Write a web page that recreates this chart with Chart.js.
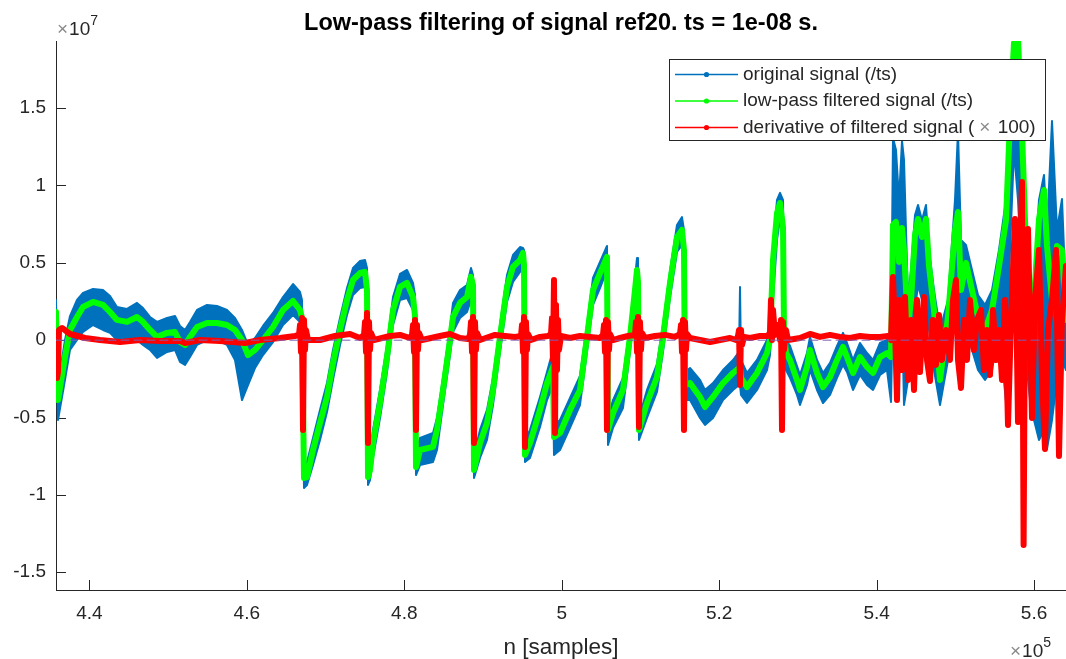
<!DOCTYPE html>
<html>
<head>
<meta charset="utf-8">
<title>Low-pass filtering of signal ref20</title>
<script src="https://cdn.jsdelivr.net/npm/chart.js@4.4.1/dist/chart.umd.min.js"></script>
<style>
  html, body { margin: 0; padding: 0; background: #fff; }
  #wrap { width: 1066px; height: 659px; }
</style>
</head>
<body>
<div id="wrap"><canvas id="plot" width="1066" height="659"></canvas></div>
<script>
// sample index n, shared by the original (noise band) and the filtered signal
const n = [
  435760, 436014, 436903, 437538, 438428, 439190, 440461, 441730, 442620, 443509,
  444779, 446049, 446811, 447701, 448590, 449860, 450876, 451512, 452147, 452782,
  453671, 454942, 456212, 457482, 458498, 459387, 460150, 461039, 462055, 463326,
  464596, 465866, 466755, 467009, 467263, 467645, 468407, 469296, 470185, 470947,
  471837, 472726, 473488, 474377, 475013, 475267, 475394, 475648, 476029, 476918,
  477807, 478569, 479458, 480347, 481110, 481364, 481491, 481999, 483650, 484158,
  484921, 485810, 486191, 487080, 487969, 488477, 488731, 488858, 489620, 490510,
  491272, 492161, 493050, 493812, 494701, 495082, 495209, 495336, 495971, 497242,
  498131, 498893, 499020, 499782, 501052, 502322, 503211, 503973, 504863, 505752,
  505879, 506514, 507784, 508673, 509309, 509563, 509690, 509817, 510833, 512103,
  512866, 513755, 514644, 515279, 515533, 515660, 516295, 517567, 518200, 519219,
  520489, 521760, 522521, 522649, 522776, 523538, 524808, 526078, 526459, 526841,
  527349, 527730, 528111, 528238, 528492, 529000, 529889, 530270, 531160, 531541,
  532430, 533192, 534081, 534970, 535733, 536241, 537003, 537892, 538781, 539544,
  540433, 541322, 541830, 542084, 542465, 542846, 543227, 543481, 543990, 544371,
  544879, 545260, 545768, 546276, 546657, 547292, 548055, 549071, 549960, 550341,
  550722, 551357, 552119, 552882, 553771, 554660, 555549, 556439, 556947, 557455,
  557963, 558471, 558979, 559487, 559995, 560630, 561266, 561647, 562282, 562917,
  563552, 564060
];

// low-pass filtered signal (/ts), in units of 1e6
const filtered = [
  1.82, -3.87, -1.09, 0.66, 1.50, 2.15, 2.47, 2.28, 1.82, 1.31,
  1.18, 1.50, 1.18, 0.66, 0.21, 0.47, 0.53, -0.12, -0.31, 0.21,
  0.85, 1.11, 1.11, 0.98, 0.66, 0.01, -0.96, -0.63, 0.01, 0.85,
  1.95, 2.53, 1.95, 1.43, -8.91, -8.85, -7.10, -5.35, -3.67, -1.47,
  0.66, 2.60, 3.89, 4.34, 4.41, 3.24, -8.85, -8.39, -6.65, -4.06,
  -1.09, 1.95, 3.44, 3.70, 2.79, 1.56, -8.20, -7.10, -6.90, -5.80,
  -3.22, 0.01, 1.50, 2.41, 2.79, 4.09, 3.57, -8.39, -6.65, -5.35,
  -3.22, 0.21, 3.44, 4.74, 5.18, 5.64, 4.86, -7.42, -6.65, -4.51,
  -2.77, -1.73, -6.26, -6.00, -4.51, -3.22, 0.21, 3.24, 4.34, 5.38,
  -5.80, -4.71, -3.22, 0.21, 3.24, 4.54, 3.76, -5.80, -4.06, -2.38,
  0.21, 3.70, 6.67, 7.12, 5.83, -2.90, -2.77, -3.67, -4.32, -3.67,
  -2.77, -2.12, -1.80, -1.80, -2.44, -3.03, -2.12, -0.83, 0.01, 5.18,
  8.22, 8.87, 7.32, 0.66, -0.83, -1.28, -2.57, -3.22, -1.73, -0.63,
  -2.12, -3.03, -2.38, -1.28, -0.44, -1.09, -2.12, -1.09, -1.73, -2.12,
  -1.09, -0.83, -1.09, 7.45, 7.64, 5.06, 7.25, 5.83, 0.85, 2.60,
  6.80, 7.83, 6.67, 7.83, 4.80, 1.95, -2.57, 1.50, 7.12, 8.29,
  3.24, 4.99, 3.24, 1.50, 0.66, 1.95, 4.80, 7.77, 14.23, 19.22,
  19.41, 13.52, 5.83, 1.31, 2.60, 7.83, 9.71, 6.09, 2.60, 6.09,
  5.83, 1.31
];

// original signal (/ts): upper and lower edge of its noise band, units of 1e6
const originalHi = [
  2.60, -2.90, 0.01, 1.56, 2.60, 3.05, 3.31, 3.24, 2.86, 2.15,
  2.02, 2.41, 2.08, 1.50, 1.18, 1.43, 1.56, 0.92, 0.66, 1.18,
  1.95, 2.28, 2.21, 1.95, 1.43, 0.66, -0.31, 0.14, 0.92, 1.76,
  2.79, 3.63, 3.12, 2.60, -8.07, -7.87, -6.32, -4.51, -2.77, -0.63,
  1.43, 3.37, 4.67, 5.12, 5.18, 4.67, -7.87, -7.42, -5.80, -3.22,
  -0.31, 2.79, 4.28, 4.54, 3.70, 2.92, -7.23, -6.32, -6.00, -5.03,
  -2.44, 0.79, 2.41, 3.24, 3.57, 4.67, 4.21, -7.42, -5.80, -4.51,
  -2.44, 0.98, 4.21, 5.51, 6.02, 5.96, 5.83, -6.45, -5.80, -3.67,
  -2.06, -0.63, -5.48, -5.16, -3.74, -2.31, 0.98, 4.02, 5.06, 6.09,
  -5.03, -3.87, -2.44, 0.98, 4.02, 5.31, 5.31, -5.03, -3.22, -1.54,
  0.98, 4.47, 7.45, 7.96, 7.12, -2.06, -1.80, -2.57, -3.22, -2.77,
  -1.93, -1.28, -0.76, 3.44, -1.28, -2.12, -1.28, 0.01, 0.98, 5.96,
  9.07, 9.52, 9.07, 1.43, 0.01, -0.37, -1.67, -2.25, -0.83, 0.21,
  -1.28, -2.12, -1.47, -0.37, 0.47, -0.18, -1.28, -0.18, -0.83, -1.28,
  -0.18, 0.01, -0.18, 13.07, 12.29, 9.07, 12.88, 11.65, 2.60, 4.54,
  8.09, 8.74, 7.77, 8.74, 5.83, 3.24, 0.66, 2.60, 9.07, 13.52,
  6.48, 6.15, 4.54, 2.92, 2.28, 3.24, 5.83, 9.07, 15.52, 19.53,
  19.53, 14.23, 7.12, 2.60, 3.89, 9.07, 10.68, 7.12, 14.17, 7.12,
  9.13, 2.60
];
const originalLo = [
  1.18, -5.16, -2.57, -0.63, 0.01, 0.53, 0.98, 0.66, 0.47, 0.01,
  -0.18, 0.01, -0.31, -0.63, -1.15, -0.76, -0.63, -1.41, -1.60, -1.09,
  -0.31, 0.01, 0.01, -0.31, -1.28, -3.87, -2.90, -1.80, -0.96, -0.12,
  0.98, 1.63, 1.18, 0.66, -9.56, -9.36, -8.07, -6.45, -4.64, -2.57,
  -0.31, 1.63, 2.92, 3.37, 3.44, 2.60, -9.36, -9.04, -7.61, -5.03,
  -2.06, 0.98, 2.60, 2.73, 1.95, 0.98, -8.72, -8.07, -7.87, -7.10,
  -4.19, -0.96, 0.53, 1.43, 1.82, 2.60, 1.95, -8.91, -7.61, -6.45,
  -4.19, -0.76, 2.47, 3.76, 4.41, 4.67, 4.21, -7.87, -7.61, -5.61,
  -3.87, -2.90, -7.42, -7.10, -5.67, -4.19, -0.76, 2.28, 3.37, 4.54,
  -6.77, -5.67, -4.38, -0.76, 2.28, 3.24, 2.60, -6.45, -5.03, -3.35,
  -0.76, 2.73, 5.70, 6.15, 4.86, -3.87, -3.87, -5.03, -5.48, -5.03,
  -3.87, -3.22, -2.90, -2.90, -3.54, -4.06, -3.22, -1.93, -0.96, 2.60,
  6.48, 7.90, 6.48, -0.31, -1.93, -2.44, -3.54, -4.19, -2.90, -1.93,
  -3.22, -4.06, -3.54, -2.44, -1.60, -2.06, -3.22, -2.25, -2.90, -3.22,
  -2.25, -1.93, -3.99, 2.60, 0.66, 0.01, 1.95, -4.19, -2.57, -0.31,
  1.95, 3.57, 2.60, 3.24, 0.66, -1.93, -4.19, -1.28, 2.60, 3.89,
  0.01, 0.66, -0.63, -1.93, -2.57, -1.93, 0.66, -3.99, 5.83, 12.29,
  9.07, 3.89, -1.28, -3.87, -5.16, -6.45, -5.80, -7.03, -5.16, -2.57,
  -1.28, -1.93
];

// derivative of filtered signal (x 100), units of 1e6
const nDeriv = [
  435760, 435887, 436014, 436141, 436522, 437538, 439444, 441349, 443890, 446430,
  448971, 451512, 452147, 454052, 456593, 459768, 461674, 464215, 466120, 466628,
  466755, 466882, 467009, 467136, 467263, 467390, 467518, 467772, 469296, 471202,
  473107, 474377, 474886, 475013, 475140, 475267, 475394, 475521, 475648, 475775,
  476156, 478188, 479458, 480729, 480983, 481110, 481237, 481364, 481491, 481618,
  481745, 481872, 482253, 484540, 485810, 487080, 488096, 488350, 488477, 488604,
  488731, 488858, 488985, 489112, 489239, 489620, 491526, 492796, 494066, 494828,
  494955, 495082, 495209, 495336, 495463, 495590, 495717, 496098, 497242, 498258,
  498639, 498766, 498893, 499020, 499147, 499274, 499401, 499528, 499655, 499909,
  501052, 502322, 503592, 504863, 505244, 505371, 505498, 505625, 505752, 505879,
  506006, 506133, 506514, 507403, 508419, 509309, 509436, 509563, 509690, 509817,
  509944, 510071, 510198, 510579, 511849, 513120, 514390, 515025, 515152, 515279,
  515406, 515533, 515660, 515787, 515914, 516295, 517567, 518838, 520108, 521378,
  522140, 522394, 522521, 522649, 522776, 522903, 523157, 523919, 525189, 526205,
  526459, 526586, 526713, 526841, 527095, 527476, 527730, 527857, 527984, 528111,
  528238, 528492, 528746, 530270, 531541, 532811, 534081, 535352, 536622, 537892,
  539162, 540433, 541449, 541830, 542084, 542338, 542592, 542846, 543227, 543608,
  543990, 544371, 544752, 545133, 545514, 546022, 546403, 546784, 547165, 547546,
  547927, 548309, 548817, 549325, 549706, 550087, 550341, 550722, 551103, 551484,
  551865, 552374, 552755, 553263, 553644, 554025, 554406, 554787, 555168, 555549,
  555930, 556311, 556693, 557074, 557582, 557963, 558217, 558471, 558674, 558852,
  559233, 559741, 560122, 560630, 561012, 561393, 561774, 562282, 562790, 563171,
  563552, 564060
];
const derivative = [
  0.34, -2.44, -2.06, 0.66, 0.79, 0.40, 0.14, 0.01, -0.12, 0.01,
  -0.05, -0.05, -0.18, 0.01, -0.05, -0.18, 0.01, 0.14, 0.27, 0.34,
  0.98, -0.76, 1.43, -5.80, 1.31, -0.63, 0.66, 0.01, 0.01, 0.27,
  0.40, 0.14, 0.34, 1.18, -0.76, 1.76, -6.65, 1.18, -0.63, 0.47,
  0.01, 0.27, 0.34, 0.14, 0.34, 0.98, -0.76, 1.31, -5.80, 0.98,
  -0.63, 0.47, 0.01, 0.27, 0.40, 0.14, 0.08, 0.34, 1.18, -0.76,
  1.50, -6.65, 1.18, -0.63, 0.47, 0.01, 0.34, 0.27, 0.21, 0.27,
  0.98, -0.76, 1.50, -6.90, 1.18, -0.63, 0.40, 0.01, 0.21, 0.27,
  0.40, 1.43, -1.28, 3.89, -6.00, 2.28, -1.93, 1.31, -0.63, 0.27,
  0.14, 0.27, 0.21, 0.14, 0.34, 0.98, -0.76, 1.31, -5.80, 1.18,
  -0.63, 0.40, 0.01, 0.14, 0.27, 0.34, 1.18, -0.76, 1.50, -5.61,
  1.18, -0.63, 0.47, 0.14, 0.27, 0.34, 0.21, 0.40, 0.98, -0.76,
  1.31, -5.80, 1.18, -0.63, 0.40, 0.14, 0.01, -0.12, 0.01, 0.14,
  0.01, 0.27, 0.66, -2.90, 0.66, -0.31, 0.21, 0.14, 0.27, 0.27,
  0.53, 2.60, 0.01, 1.95, 0.34, 0.98, 0.01, 1.31, -5.80, 1.18,
  -0.63, 0.66, 0.01, 0.14, 0.40, 0.21, 0.34, 0.21, 0.14, 0.27,
  0.21, 0.21, 0.27, 0.01, 4.09, 0.66, -3.87, 2.60, -1.93, 2.79,
  -2.57, 1.31, -3.22, 2.60, -2.06, 2.79, -1.28, -2.64, 1.31, -1.60,
  1.63, -1.28, 0.66, -1.28, 2.60, 3.89, -1.28, -3.09, 1.31, -1.28,
  2.60, -0.63, 1.31, 1.95, -1.93, 0.66, -2.25, 1.95, -1.28, 0.66,
  -2.57, 2.60, -5.48, 1.31, 7.83, -5.29, 5.18, 10.23, -13.24, 2.60,
  7.19, -5.03, 2.60, 5.83, -2.57, -7.03, 0.66, 2.60, 5.83, -7.48,
  1.31, 4.80
];

// reference line at zero over the full record
const nZero = [435760, 564060];
const zeroLine = [0, 0];

const xTicks = [440000, 460000, 480000, 500000, 520000, 540000, 560000];
const yTicks = [-15, -10, -5, 0, 5, 10, 15];

const seriesLabels = [
  'original signal (/ts)',
  'low-pass filtered signal (/ts)',
  'derivative of filtered signal (\u00d7 100)'
];
const titleText = 'Low-pass filtering of signal ref20. ts = 1e-08 s.';
const xTitle = 'n [samples]';

const FONT = '"Liberation Sans", Arial, Helvetica, sans-serif';
const AXIS = '#262626';
const BLUE = '#0072BD';
const GREEN = '#00FF00';
const RED = '#FF0000';

const pts = (xs, ys) => xs.map((x, i) => ({ x: x, y: ys[i] }));

// x10^k marker in the MATLAB style
function drawExponent(ctx, x, baseline, power) {
  ctx.textAlign = 'left';
  ctx.textBaseline = 'alphabetic';
  ctx.fillStyle = '#8a8a8a';
  ctx.font = '19px ' + FONT;
  ctx.fillText('\u00d7', x, baseline);
  x += ctx.measureText('\u00d7').width + 1;
  ctx.fillStyle = AXIS;
  ctx.font = '19px ' + FONT;
  ctx.fillText('10', x, baseline);
  x += ctx.measureText('10').width;
  ctx.font = '14px ' + FONT;
  ctx.fillText(String(power), x, baseline - 10);
}

const decorations = {
  id: 'decorations',
  beforeDatasetsDraw(chart) {
    const { ctx, chartArea: a, scales: { x, y } } = chart;
    ctx.save();
    ctx.strokeStyle = AXIS;
    ctx.lineWidth = 1;
    ctx.beginPath();
    x.ticks.forEach(t => {
      const px = Math.round(x.getPixelForValue(t.value)) + 0.5;
      ctx.moveTo(px, a.bottom);
      ctx.lineTo(px, a.bottom - 10);
    });
    y.ticks.forEach(t => {
      const py = Math.round(y.getPixelForValue(t.value)) + 0.5;
      ctx.moveTo(a.left, py);
      ctx.lineTo(a.left + 10, py);
    });
    ctx.stroke();
    ctx.restore();
  },
  afterDraw(chart) {
    const { ctx, chartArea: a } = chart;
    const cx = (a.left + a.right) / 2;
    ctx.save();

    ctx.fillStyle = '#000';
    ctx.font = 'bold 23.5px ' + FONT;
    ctx.textAlign = 'center';
    ctx.textBaseline = 'alphabetic';
    ctx.fillText(titleText, cx, 30);

    ctx.fillStyle = AXIS;
    ctx.font = '22.5px ' + FONT;
    ctx.fillText(xTitle, cx, 654);

    drawExponent(ctx, 57, 35, 7);
    drawExponent(ctx, 1010, 657, 5);

    // legend box, top right inside the axes
    const box = { left: 669.5, top: 59.5, right: 1045.5, bottom: 140.5 };
    ctx.fillStyle = '#fff';
    ctx.fillRect(box.left, box.top, box.right - box.left, box.bottom - box.top);
    ctx.strokeStyle = AXIS;
    ctx.lineWidth = 1;
    ctx.strokeRect(box.left, box.top, box.right - box.left, box.bottom - box.top);

    const colors = [BLUE, GREEN, RED];
    const rows = [74.5, 101, 127.5];
    ctx.font = '19px ' + FONT;
    ctx.textBaseline = 'middle';
    ctx.textAlign = 'left';
    seriesLabels.forEach((label, i) => {
      const yy = rows[i];
      ctx.strokeStyle = colors[i];
      ctx.lineWidth = 1.5;
      ctx.beginPath();
      ctx.moveTo(675, yy);
      ctx.lineTo(738, yy);
      ctx.stroke();
      ctx.fillStyle = colors[i];
      ctx.beginPath();
      ctx.arc(706.5, yy, 2.6, 0, Math.PI * 2);
      ctx.fill();

      // the TeX \times gets math spacing and a lighter tone
      let tx = 743;
      label.split('\u00d7').forEach((part, k) => {
        if (k > 0) {
          tx += 5;
          ctx.fillStyle = '#8a8a8a';
          ctx.fillText('\u00d7', tx, yy);
          tx += ctx.measureText('\u00d7').width + 2;
        }
        ctx.fillStyle = AXIS;
        ctx.fillText(part, tx, yy);
        tx += ctx.measureText(part).width;
      });
    });
    ctx.restore();
  }
};

new Chart(document.getElementById('plot'), {
  type: 'line',
  data: {
    datasets: [
      {
        label: seriesLabels[0],
        data: pts(n, originalHi),
        borderColor: BLUE,
        backgroundColor: BLUE,
        borderWidth: 2,
        fill: '+1',
        order: 5
      },
      {
        label: seriesLabels[0] + ' (lower)',
        data: pts(n, originalLo),
        borderColor: BLUE,
        borderWidth: 2,
        fill: false,
        order: 4
      },
      {
        label: seriesLabels[1],
        data: pts(n, filtered),
        borderColor: GREEN,
        borderWidth: 6,
        fill: false,
        order: 3
      },
      {
        label: seriesLabels[2],
        data: pts(nDeriv, derivative),
        borderColor: RED,
        borderWidth: 6,
        fill: false,
        order: 2
      },
      {
        label: 'zero',
        data: pts(nZero, zeroLine),
        borderColor: '#7b5fb5',
        borderWidth: 1,
        borderDash: [8, 5],
        fill: false,
        order: 1
      }
    ]
  },
  options: {
    responsive: false,
    animation: false,
    devicePixelRatio: 1,
    parsing: false,
    normalized: true,
    elements: {
      point: { radius: 0, hoverRadius: 0 },
      line: { tension: 0, borderJoinStyle: 'round', borderCapStyle: 'round' }
    },
    layout: { padding: { left: 0, right: 0, top: 41, bottom: 0 } },
    scales: {
      x: {
        type: 'linear',
        position: 'bottom',
        min: 435760,
        max: 564060,
        afterFit: s => { s.height = 69; },
        afterBuildTicks: s => { s.ticks = xTicks.map(v => ({ value: v })); },
        grid: { display: false, drawTicks: false },
        border: { display: true, color: AXIS, width: 1 },
        ticks: {
          autoSkip: false,
          maxRotation: 0,
          padding: 12,
          color: AXIS,
          font: { family: FONT, size: 19 },
          callback: v => String(v / 100000)
        }
      },
      y: {
        type: 'linear',
        position: 'left',
        min: -16.15,
        max: 19.34,
        afterFit: s => { s.width = 56; },
        afterBuildTicks: s => { s.ticks = yTicks.map(v => ({ value: v })); },
        grid: { display: false, drawTicks: false },
        border: { display: true, color: AXIS, width: 1 },
        ticks: {
          autoSkip: false,
          padding: 10,
          color: AXIS,
          font: { family: FONT, size: 19 },
          callback: v => String(v / 10)
        }
      }
    },
    plugins: {
      legend: { display: false },
      tooltip: { enabled: false },
      title: { display: false }
    }
  },
  plugins: [decorations]
});
</script>
</body>
</html>
